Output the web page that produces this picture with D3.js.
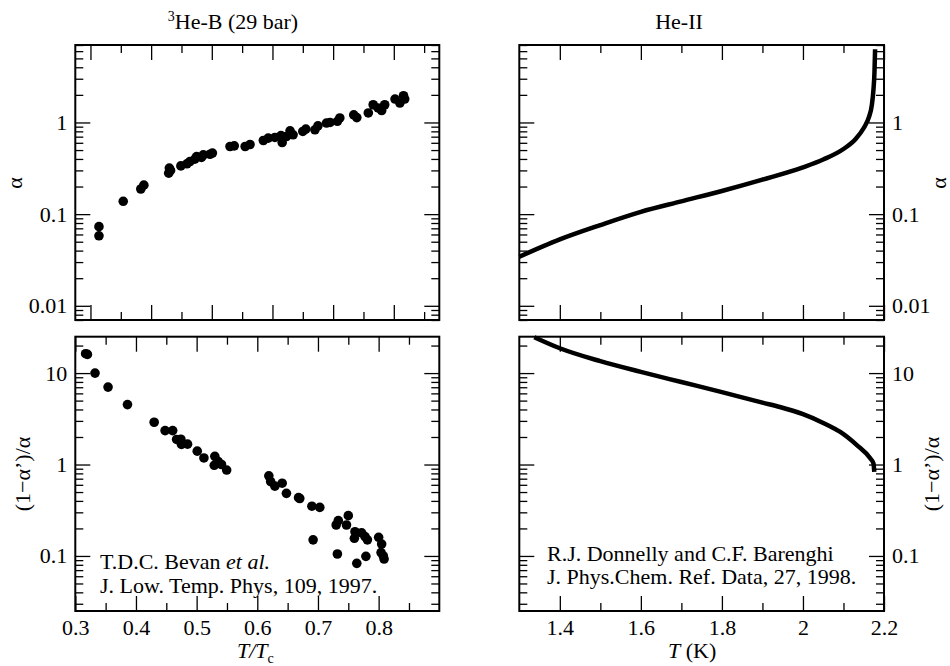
<!DOCTYPE html>
<html>
<head>
<meta charset="utf-8">
<script src="https://cdn.jsdelivr.net/npm/d3@7"></script>
<style>
    body { margin: 0; background: #fff; }
    svg text { font-family: "Liberation Serif", "Times New Roman", serif; fill: #000; }
</style>
</head>
<body>
<div id="chart"></div>
<script>
// 3He-B (29 bar), Bevan et al. -- alpha vs T/Tc
const he3_alpha_t = [0.314, 0.314, 0.354, 0.383, 0.388, 0.429, 0.430, 0.432, 0.449, 0.459, 0.464, 0.472,
    0.475, 0.483, 0.486, 0.497, 0.501, 0.530, 0.537, 0.555, 0.563, 0.585, 0.593, 0.604, 0.614, 0.616,
    0.623, 0.629, 0.634, 0.650, 0.655, 0.670, 0.675, 0.689, 0.695, 0.707, 0.711, 0.734, 0.739, 0.758,
    0.766, 0.774, 0.780, 0.785, 0.802, 0.810, 0.816, 0.818];
const he3_alpha_val = [0.073, 0.058, 0.138, 0.188, 0.207, 0.280, 0.318, 0.300, 0.336, 0.354, 0.375, 0.398,
    0.425, 0.415, 0.443, 0.450, 0.463, 0.547, 0.556, 0.547, 0.575, 0.636, 0.675, 0.686, 0.720, 0.604,
    0.703, 0.810, 0.734, 0.798, 0.847, 0.832, 0.920, 0.985, 1.00, 1.03, 1.12, 1.21, 1.13, 1.27,
    1.56, 1.44, 1.35, 1.56, 1.80, 1.63, 1.96, 1.80];

// 3He-B -- (1-alpha')/alpha vs T/Tc
const he3_ratio_t = [0.317, 0.320, 0.3325, 0.354, 0.386, 0.430, 0.448, 0.4605, 0.467, 0.474, 0.475, 0.485,
    0.501, 0.512, 0.530, 0.529, 0.5355, 0.541, 0.5495, 0.619, 0.622, 0.629, 0.641, 0.648, 0.668, 0.670,
    0.690, 0.703, 0.692, 0.730, 0.7335, 0.747, 0.750, 0.732, 0.761, 0.760, 0.772, 0.7775, 0.7815, 0.764,
    0.779, 0.800, 0.805, 0.804, 0.8077, 0.809];
const he3_ratio_val = [16.3, 16.0, 10.0, 7.03, 4.52, 2.90, 2.35, 2.35, 1.88, 1.89, 1.66, 1.67,
    1.40, 1.18, 1.23, 0.98, 1.08, 1.00, 0.87, 0.753, 0.650, 0.580, 0.625, 0.484, 0.434, 0.425,
    0.350, 0.340, 0.150, 0.218, 0.244, 0.218, 0.276, 0.105, 0.184, 0.156, 0.179, 0.163, 0.150, 0.083,
    0.099, 0.160, 0.135, 0.109, 0.100, 0.0925];

// He-II, Donnelly & Barenghi -- alpha vs T (K)
const he2_alpha_t = [1.30, 1.40, 1.50, 1.60, 1.70, 1.80, 1.90, 2.00, 2.05, 2.10, 2.13, 2.15, 2.163, 2.17, 2.174, 2.1765, 2.178];
const he2_alpha_val = [0.0343, 0.053, 0.076, 0.106, 0.138, 0.179, 0.238, 0.324, 0.394, 0.513, 0.66, 0.871, 1.15, 1.55, 2.29, 3.55, 6.3];

// He-II -- (1-alpha')/alpha vs T (K)
const he2_ratio_t = [1.337, 1.40, 1.50, 1.60, 1.70, 1.80, 1.90, 1.943, 2.00, 2.05, 2.092, 2.133, 2.166, 2.174, 2.176];
const he2_ratio_val = [24.7, 18.7, 13.5, 10.3, 7.98, 6.20, 4.75, 4.26, 3.55, 2.85, 2.27, 1.63, 1.17, 1.03, 0.83];

// tick values
const x_major_ratio = [0.3, 0.4, 0.5, 0.6, 0.7, 0.8];
const x_minor_ratio = [0.35, 0.45, 0.55, 0.65, 0.75, 0.85];
const x_major_kelvin = [1.4, 1.6, 1.8, 2.0, 2.2];
const x_minor_kelvin = [1.5, 1.7, 1.9, 2.1];

const font_size = 22;
const major_len = 15;
const minor_len = 8;

const svg = d3.select('#chart').append('svg')
    .attr('width', 950)
    .attr('height', 666);

/**
 * Splits the ticks of a log scale into decades and the 2..9 subdivisions
 * @param scale
 */
function log_ticks(scale) {
    let all = scale.ticks(20);
    let is_decade = v => Math.abs(Math.log10(v) - Math.round(Math.log10(v))) < 1e-6;
    return {major: all.filter(is_decade), minor: all.filter(v => !is_decade(v))};
}

function fmt(v) {
    return String(+v.toFixed(3));
}

/**
 * Draws one boxed panel with inward ticks on all four sides
 */
function add_panel(p) {
    let x = d3.scaleLinear().domain(p.x_domain).range(p.x_range);
    let y = d3.scaleLog().domain(p.y_domain).range([p.y_range[1], p.y_range[0]]);
    let g = svg.append('g');
    let yt = log_ticks(y);

    let bottom = p.y_range[1], top = p.y_range[0], left = p.x_range[0], right = p.x_range[1];

    let axes = [
        [d3.axisBottom(x).tickValues(p.x_major).tickSize(-major_len), bottom, 'y', p.x_labels],
        [d3.axisBottom(x).tickValues(p.x_minor).tickSize(-minor_len), bottom, 'y', false],
        [d3.axisTop(x).tickValues(p.x_major).tickSize(-major_len), top, 'y', false],
        [d3.axisTop(x).tickValues(p.x_minor).tickSize(-minor_len), top, 'y', false],
        [d3.axisLeft(y).tickValues(yt.major).tickSize(-major_len), left, 'x', p.y_side === 'left'],
        [d3.axisLeft(y).tickValues(yt.minor).tickSize(-minor_len), left, 'x', false],
        [d3.axisRight(y).tickValues(yt.major).tickSize(-major_len), right, 'x', p.y_side === 'right'],
        [d3.axisRight(y).tickValues(yt.minor).tickSize(-minor_len), right, 'x', false]
    ];

    axes.forEach(function (a) {
        let axis = a[0].tickPadding(8).tickFormat(a[3] ? fmt : '');
        let ag = g.append('g')
            .attr('transform', a[2] === 'y' ? 'translate(0,' + a[1] + ')' : 'translate(' + a[1] + ',0)')
            .call(axis);
        ag.select('.domain').remove();
        ag.selectAll('line').attr('stroke', '#000').attr('stroke-width', 1.3);
        ag.selectAll('text')
            .style('font-family', '"Liberation Serif", "Times New Roman", serif')
            .attr('font-size', font_size)
            .attr('fill', '#000');
    });

    // data
    if (p.kind === 'dots') {
        g.append('g').selectAll('circle')
            .data(d3.zip(p.xs, p.ys))
            .join('circle')
            .attr('cx', d => x(d[0]))
            .attr('cy', d => y(d[1]))
            .attr('r', 4.8)
            .attr('fill', '#000');
    } else {
        let line = d3.line()
            .x(d => x(d[0]))
            .y(d => y(d[1]))
            .curve(d3.curveMonotoneX);
        g.append('path')
            .datum(d3.zip(p.xs, p.ys))
            .attr('d', line)
            .attr('fill', 'none')
            .attr('stroke', '#000')
            .attr('stroke-width', 4.5);
    }

    g.append('rect')
        .attr('x', left)
        .attr('y', top)
        .attr('width', right - left)
        .attr('height', bottom - top)
        .attr('fill', 'none')
        .attr('stroke', '#000')
        .attr('stroke-width', 2);
}

const left_cols = [75.3, 439.3];
const right_cols = [519.3, 884];
const top_rows = [45, 320];
const bottom_rows = [336.7, 611];

add_panel({kind: 'dots', xs: he3_alpha_t, ys: he3_alpha_val,
    x_domain: [0.275, 0.875], x_range: left_cols, y_domain: [0.007, 7], y_range: top_rows,
    x_major: x_major_ratio, x_minor: x_minor_ratio, x_labels: false, y_side: 'left'});
add_panel({kind: 'dots', xs: he3_ratio_t, ys: he3_ratio_val,
    x_domain: [0.3, 0.9], x_range: left_cols, y_domain: [0.025, 25], y_range: bottom_rows,
    x_major: x_major_ratio, x_minor: x_minor_ratio, x_labels: true, y_side: 'left'});
add_panel({kind: 'line', xs: he2_alpha_t, ys: he2_alpha_val,
    x_domain: [1.3, 2.2], x_range: right_cols, y_domain: [0.007, 7], y_range: top_rows,
    x_major: x_major_kelvin, x_minor: x_minor_kelvin, x_labels: false, y_side: 'right'});
add_panel({kind: 'line', xs: he2_ratio_t, ys: he2_ratio_val,
    x_domain: [1.3, 2.2], x_range: right_cols, y_domain: [0.025, 25], y_range: bottom_rows,
    x_major: x_major_kelvin, x_minor: x_minor_kelvin, x_labels: true, y_side: 'right'});

// titles
let title_left = svg.append('text').attr('x', 233).attr('y', 29)
    .attr('text-anchor', 'middle').attr('font-size', font_size);
title_left.append('tspan').attr('font-size', 14).attr('dy', -8).text('3');
title_left.append('tspan').attr('dy', 8).text('He-B (29 bar)');

svg.append('text').attr('x', 679).attr('y', 29)
    .attr('text-anchor', 'middle').attr('font-size', font_size).text('He-II');

// y axis labels
function add_y_label(x, y, label) {
    svg.append('text')
        .attr('transform', 'translate(' + x + ',' + y + ') rotate(-90)')
        .attr('text-anchor', 'middle')
        .attr('font-size', font_size)
        .text(label);
}
add_y_label(22, 183, 'α');
add_y_label(30, 474, '(1−α’)/α');
add_y_label(946, 183, 'α');
add_y_label(939, 474, '(1−α’)/α');

// x axis labels
let xl_left = svg.append('text').attr('x', 237).attr('y', 658).attr('font-size', font_size);
xl_left.append('tspan').attr('font-style', 'italic').text('T/T');
xl_left.append('tspan').attr('font-size', 14).attr('dy', 5).text('c');

let xl_right = svg.append('text').attr('x', 668).attr('y', 658).attr('font-size', font_size);
xl_right.append('tspan').attr('font-style', 'italic').text('T');
xl_right.append('tspan').text(' (K)');

// references
let ref1 = svg.append('text').attr('x', 100).attr('y', 569).attr('font-size', font_size);
ref1.append('tspan').text('T.D.C. Bevan ');
ref1.append('tspan').attr('font-style', 'italic').text('et al.');
svg.append('text').attr('x', 100).attr('y', 593).attr('font-size', font_size)
    .text('J. Low. Temp. Phys, 109, 1997.');

svg.append('text').attr('x', 547).attr('y', 561).attr('font-size', font_size)
    .text('R.J. Donnelly and C.F\u0313. Barenghi');
svg.append('text').attr('x', 547).attr('y', 584).attr('font-size', font_size)
    .text('J. Phys.Chem. Ref. Data, 27, 1998.');
</script>
</body>
</html>
